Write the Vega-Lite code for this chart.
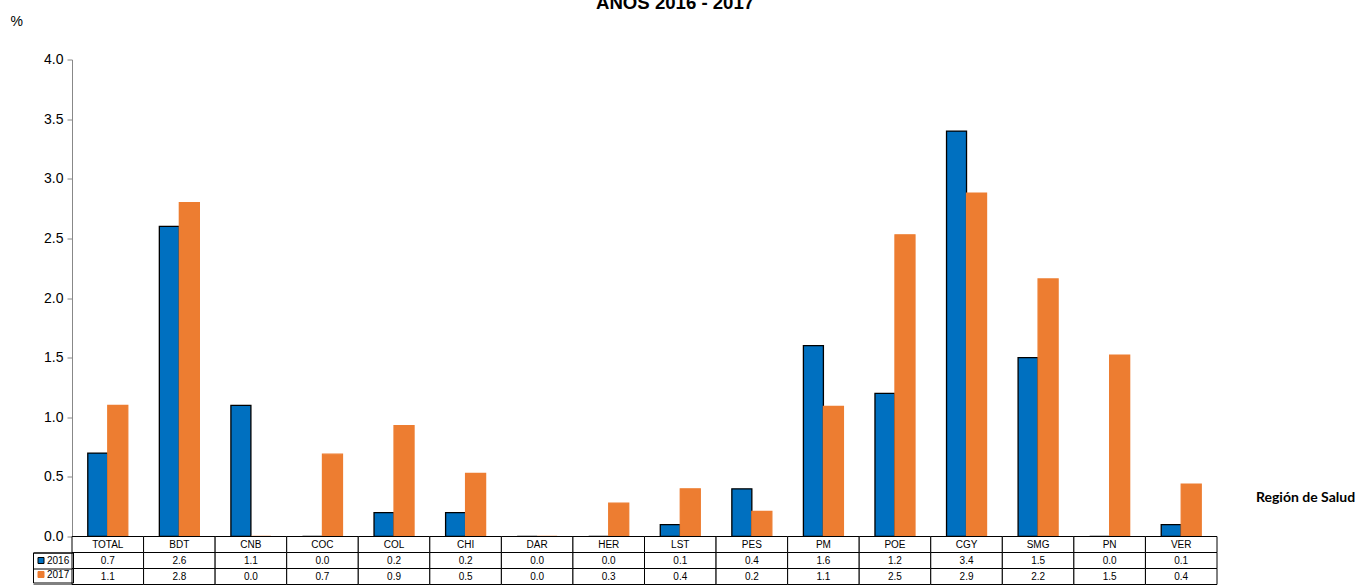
{
  "$schema": "https://vega.github.io/schema/vega-lite/v6.json",
  "autosize": {"type": "pad"},
  "padding": {"left": 10, "top": -6.5, "right": 0, "bottom": 0},
  "config": {"view": {"stroke": null}, "font": "Liberation Sans"},
  "title": {"text": "AÑOS 2016 - 2017", "font": "Liberation Sans", "fontSize": 18.6, "fontWeight": "bold", "anchor": "start", "frame": "group", "dx": 524, "offset": 2, "color": "black"},
  "spacing": 0,
  "bounds": "flush",
  "data": {"values": [
    {"region": "TOTAL", "year": "2016", "value": 0.7},
    {"region": "TOTAL", "year": "2017", "value": 1.1},
    {"region": "BDT", "year": "2016", "value": 2.6},
    {"region": "BDT", "year": "2017", "value": 2.8},
    {"region": "CNB", "year": "2016", "value": 1.1},
    {"region": "CNB", "year": "2017", "value": 0.0},
    {"region": "COC", "year": "2016", "value": 0.0},
    {"region": "COC", "year": "2017", "value": 0.69},
    {"region": "COL", "year": "2016", "value": 0.2},
    {"region": "COL", "year": "2017", "value": 0.93},
    {"region": "CHI", "year": "2016", "value": 0.2},
    {"region": "CHI", "year": "2017", "value": 0.53},
    {"region": "DAR", "year": "2016", "value": 0.0},
    {"region": "DAR", "year": "2017", "value": 0.0},
    {"region": "HER", "year": "2016", "value": 0.0},
    {"region": "HER", "year": "2017", "value": 0.28},
    {"region": "LST", "year": "2016", "value": 0.1},
    {"region": "LST", "year": "2017", "value": 0.4},
    {"region": "PES", "year": "2016", "value": 0.4},
    {"region": "PES", "year": "2017", "value": 0.21},
    {"region": "PM", "year": "2016", "value": 1.6},
    {"region": "PM", "year": "2017", "value": 1.09},
    {"region": "POE", "year": "2016", "value": 1.2},
    {"region": "POE", "year": "2017", "value": 2.53},
    {"region": "CGY", "year": "2016", "value": 3.4},
    {"region": "CGY", "year": "2017", "value": 2.88},
    {"region": "SMG", "year": "2016", "value": 1.5},
    {"region": "SMG", "year": "2017", "value": 2.16},
    {"region": "PN", "year": "2016", "value": 0.0},
    {"region": "PN", "year": "2017", "value": 1.52},
    {"region": "VER", "year": "2016", "value": 0.1},
    {"region": "VER", "year": "2017", "value": 0.44}
  ]},
  "vconcat": [
    {
      "width": 1145,
      "height": 477,
      "mark": {"type": "bar", "strokeWidth": 1.3},
      "encoding": {
        "x": {"field": "region", "type": "nominal",
          "scale": {"domain": ["TOTAL","BDT","CNB","COC","COL","CHI","DAR","HER","LST","PES","PM","POE","CGY","SMG","PN","VER"], "paddingInner": 0, "paddingOuter": 0},
          "axis": {"labels": false, "ticks": false, "domain": false, "title": "Región de Salud", "titleFont": "Lato", "titleFontWeight": "bold", "titleFontSize": 14, "titleColor": "black", "titleX": 1233, "titleY": -35, "titleAlign": "center", "titleBaseline": "alphabetic"}},
        "xOffset": {"field": "year", "type": "nominal", "scale": {"domain": ["2016","2017"], "paddingInner": 0, "paddingOuter": 0.789}},
        "y": {"field": "value", "type": "quantitative",
          "scale": {"domain": [0, 4], "nice": false},
          "axis": {"values": [0, 0.5, 1, 1.5, 2, 2.5, 3, 3.5, 4], "format": ".1f", "grid": false, "labelFontSize": 14, "labelColor": "black", "domainColor": "#888888", "tickColor": "#888888", "tickSize": 5, "labelPadding": 4,
            "title": "%", "titleAngle": 0, "titleX": -62, "titleY": -34, "titleAlign": "left", "titleBaseline": "alphabetic", "titleFontWeight": "normal", "titleFontSize": 14, "titleColor": "black"}},
        "color": {"field": "year", "type": "nominal",
          "scale": {"domain": ["2016","2017"], "range": ["#0070C0","#ED7D31"]},
          "legend": {"orient": "none", "legendX": -39, "legendY": 493, "title": null, "symbolType": "square", "symbolSize": 36, "labelFontSize": 10, "labelFont": "Liberation Sans", "labelColor": "black", "strokeColor": "black", "padding": 3, "rowPadding": 4, "labelOffset": 1, "symbolStrokeWidth": 1}},
        "stroke": {"field": "year", "type": "nominal",
          "scale": {"domain": ["2016","2017"], "range": ["#000000","#ED7D31"]},
          "legend": {"orient": "none", "legendX": -39, "legendY": 493, "title": null, "symbolType": "square", "symbolSize": 36, "labelFontSize": 10, "labelFont": "Liberation Sans", "labelColor": "black", "strokeColor": "black", "padding": 3, "rowPadding": 4, "labelOffset": 1, "symbolStrokeWidth": 1}}
      }
    },
    {
      "width": 1145,
      "height": 48,
      "encoding": {
        "x": {"field": "region", "type": "nominal",
          "scale": {"domain": ["TOTAL","BDT","CNB","COC","COL","CHI","DAR","HER","LST","PES","PM","POE","CGY","SMG","PN","VER"], "paddingInner": 0, "paddingOuter": 0},
          "axis": null}
      },
      "layer": [
        {
          "transform": [{"filter": "datum.year == '2016'"}],
          "mark": {"type": "rect", "fill": "white", "stroke": "black", "strokeWidth": 1},
          "encoding": {
            "y": {"datum": "cat", "type": "ordinal",
              "scale": {"domain": ["cat","2016","2017"], "paddingInner": 0, "paddingOuter": 0},
              "axis": {"values": ["2016", "2017"], "tickBand": "extent", "tickSize": 39, "tickColor": "black", "tickWidth": 1, "labels": false, "domain": false, "title": null}}
          }
        },
        {
          "mark": {"type": "rect", "fill": "white", "stroke": "black", "strokeWidth": 1},
          "encoding": {
            "y": {"field": "year", "type": "ordinal",
              "axis": {"values": ["2016", "2017"], "tickBand": "extent", "tickSize": 39, "tickColor": "black", "tickWidth": 1, "labels": false, "domain": false, "title": null}}
          }
        },
        {
          "transform": [{"filter": "datum.year == '2016'"}],
          "mark": {"type": "text", "fontSize": 10, "color": "black"},
          "encoding": {
            "y": {"datum": "cat", "type": "ordinal"},
            "text": {"field": "region"}
          }
        },
        {
          "mark": {"type": "text", "fontSize": 10, "color": "black"},
          "encoding": {
            "y": {"field": "year", "type": "ordinal"},
            "text": {"field": "value", "format": ".1f"}
          }
        }
      ]
    }
  ]
}
